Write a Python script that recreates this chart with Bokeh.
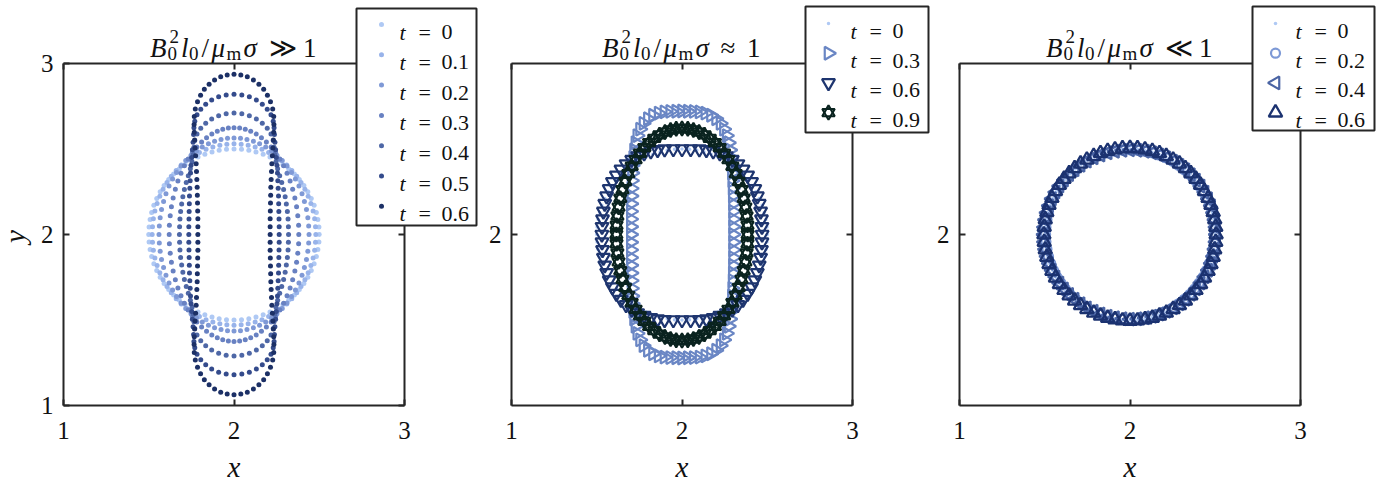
from math import pi

from bokeh.core.properties import value
from bokeh.embed import file_html
from bokeh.layouts import row
from bokeh.models import ColumnDataSource, FixedTicker, LinearAxis, Range1d
from bokeh.plotting import figure
from bokeh.resources import INLINE

SERIF = "Liberation Serif"
AXIS_COLOR = "#262626"
TEXT_COLOR = "#111111"

# drop centre
CX, CY = 2.0, 2.0

# ---------------------------------------------------------------------------
# Interface markers, one quarter of each outline (dx, dy) from the equator to
# the pole; the drops are symmetric about x = 2 and y = 2.
# ---------------------------------------------------------------------------
CIRCLE_T0 = [(0.500, 0.000), (0.498, 0.044), (0.492, 0.087), (0.483, 0.129), (0.470, 0.171),
             (0.453, 0.211), (0.433, 0.250), (0.410, 0.287), (0.383, 0.321), (0.354, 0.354),
             (0.321, 0.383), (0.287, 0.410), (0.250, 0.433), (0.211, 0.453), (0.171, 0.470),
             (0.129, 0.483), (0.087, 0.492), (0.044, 0.498), (0.000, 0.500)]

# strong field
P1_T01 = [(0.480, 0.000), (0.478, 0.046), (0.473, 0.092), (0.464, 0.137), (0.451, 0.181),
          (0.435, 0.224), (0.416, 0.265), (0.393, 0.304), (0.368, 0.341), (0.339, 0.375),
          (0.309, 0.406), (0.275, 0.434), (0.240, 0.459), (0.203, 0.480), (0.164, 0.498),
          (0.124, 0.512), (0.083, 0.522), (0.042, 0.528), (0.000, 0.530)]
P1_T02 = [(0.440, 0.000), (0.438, 0.049), (0.433, 0.098), (0.425, 0.146), (0.413, 0.193),
          (0.399, 0.239), (0.381, 0.283), (0.360, 0.324), (0.337, 0.363), (0.311, 0.400),
          (0.283, 0.433), (0.252, 0.463), (0.220, 0.489), (0.186, 0.512), (0.150, 0.531),
          (0.114, 0.546), (0.076, 0.556), (0.038, 0.563), (0.000, 0.565)]
P1_T03 = [(0.380, 0.000), (0.379, 0.054), (0.374, 0.109), (0.367, 0.162), (0.357, 0.214),
          (0.344, 0.264), (0.329, 0.313), (0.311, 0.358), (0.291, 0.402), (0.269, 0.442),
          (0.244, 0.479), (0.218, 0.512), (0.190, 0.541), (0.161, 0.566), (0.130, 0.587),
          (0.098, 0.604), (0.066, 0.616), (0.033, 0.623), (0.000, 0.625)]
P1_T04 = [(0.320, 0.000), (0.319, 0.045), (0.317, 0.090), (0.313, 0.134), (0.307, 0.178),
          (0.300, 0.221), (0.291, 0.263), (0.280, 0.304), (0.268, 0.344), (0.256, 0.384),
          (0.246, 0.425), (0.239, 0.467), (0.235, 0.510), (0.230, 0.549), (0.217, 0.587),
          (0.195, 0.621), (0.166, 0.651), (0.131, 0.676), (0.090, 0.695), (0.046, 0.706),
          (0.000, 0.710)]
P1_T05 = [(0.265, 0.000), (0.265, 0.045), (0.264, 0.090), (0.263, 0.135), (0.262, 0.180),
          (0.261, 0.225), (0.259, 0.270), (0.257, 0.315), (0.255, 0.360), (0.252, 0.405),
          (0.248, 0.450), (0.244, 0.495), (0.240, 0.540), (0.237, 0.585), (0.235, 0.625),
          (0.230, 0.663), (0.217, 0.700), (0.195, 0.733), (0.166, 0.762), (0.131, 0.786),
          (0.090, 0.805), (0.046, 0.816), (0.000, 0.820)]
P1_T06 = [(0.212, 0.000), (0.212, 0.046), (0.212, 0.092), (0.213, 0.138), (0.214, 0.184),
          (0.215, 0.230), (0.216, 0.276), (0.218, 0.322), (0.220, 0.368), (0.222, 0.414),
          (0.225, 0.460), (0.228, 0.506), (0.231, 0.552), (0.233, 0.598), (0.234, 0.644),
          (0.233, 0.690), (0.227, 0.734), (0.214, 0.776), (0.196, 0.814), (0.174, 0.849),
          (0.146, 0.879), (0.114, 0.904), (0.078, 0.922), (0.040, 0.933), (0.000, 0.937)]

# intermediate field
P2_T03 = [(0.300, 0.000), (0.300, 0.045), (0.300, 0.090), (0.300, 0.135), (0.299, 0.180),
          (0.298, 0.225), (0.297, 0.270), (0.295, 0.315), (0.293, 0.360), (0.290, 0.405),
          (0.286, 0.450), (0.281, 0.494), (0.273, 0.537), (0.262, 0.578), (0.246, 0.616),
          (0.226, 0.650), (0.200, 0.677), (0.170, 0.697), (0.137, 0.710), (0.103, 0.717),
          (0.069, 0.720), (0.034, 0.721), (0.000, 0.722)]
P2_T06 = [(0.470, 0.000), (0.469, 0.045), (0.466, 0.090), (0.461, 0.135), (0.453, 0.180),
          (0.442, 0.224), (0.427, 0.267), (0.408, 0.308), (0.385, 0.346), (0.358, 0.381),
          (0.328, 0.412), (0.295, 0.438), (0.260, 0.459), (0.222, 0.475), (0.183, 0.487),
          (0.143, 0.495), (0.102, 0.499), (0.051, 0.500), (0.000, 0.500)]
P2_T09 = [(0.385, 0.000), (0.384, 0.054), (0.379, 0.108), (0.372, 0.160), (0.362, 0.212),
          (0.349, 0.262), (0.333, 0.310), (0.315, 0.356), (0.295, 0.399), (0.272, 0.438),
          (0.247, 0.475), (0.221, 0.508), (0.193, 0.537), (0.163, 0.562), (0.132, 0.583),
          (0.100, 0.599), (0.067, 0.611), (0.034, 0.618), (0.000, 0.620)]

# weak field
P3_T02 = [(0.495, 0.000), (0.493, 0.043), (0.487, 0.086), (0.478, 0.128), (0.465, 0.169),
          (0.449, 0.209), (0.429, 0.248), (0.405, 0.284), (0.379, 0.318), (0.350, 0.350),
          (0.318, 0.379), (0.284, 0.405), (0.248, 0.429), (0.209, 0.449), (0.169, 0.465),
          (0.128, 0.478), (0.086, 0.487), (0.043, 0.493), (0.000, 0.495)]
P3_T04 = [(0.505, 0.000), (0.503, 0.043), (0.497, 0.086), (0.488, 0.128), (0.475, 0.169),
          (0.458, 0.209), (0.437, 0.248), (0.414, 0.284), (0.387, 0.318), (0.357, 0.350),
          (0.325, 0.379), (0.290, 0.405), (0.253, 0.429), (0.213, 0.449), (0.173, 0.465),
          (0.131, 0.478), (0.088, 0.487), (0.044, 0.493), (0.000, 0.495)]
P3_T06 = [(0.505, 0.000), (0.503, 0.044), (0.497, 0.088), (0.488, 0.131), (0.475, 0.173),
          (0.458, 0.213), (0.437, 0.253), (0.414, 0.290), (0.387, 0.325), (0.357, 0.357),
          (0.325, 0.387), (0.290, 0.414), (0.253, 0.437), (0.213, 0.458), (0.173, 0.475),
          (0.131, 0.488), (0.088, 0.497), (0.044, 0.503), (0.000, 0.505)]

P1_TIMES = ["0", "0.1", "0.2", "0.3", "0.4", "0.5", "0.6"]
P1_SHAPES = [CIRCLE_T0, P1_T01, P1_T02, P1_T03, P1_T04, P1_T05, P1_T06]
P1_COLORS = ["#AFC9F4", "#98B3EA", "#7F99D6", "#6881C2", "#4E67A6", "#344B8C", "#1C3066"]

P2_TIMES = ["0", "0.3", "0.6", "0.9"]
P2_SHAPES = [CIRCLE_T0, P2_T03, P2_T06, P2_T09]
P2_COLORS = ["#AFC9F4", "#6A86C4", "#1E356F", "#0A231F"]

P3_TIMES = ["0", "0.2", "0.4", "0.6"]
P3_SHAPES = [CIRCLE_T0, P3_T02, P3_T04, P3_T06]
P3_COLORS = ["#AFC9F4", "#7D99D6", "#4A64A4", "#1B3270"]

TICKS = [1, 2, 3]
MID_TICK = [2]

DOT = {"kind": "dot", "size": 5}
SMALL_DOT = {"kind": "dot", "size": 3.5}
TRI_RIGHT = {"kind": "open", "marker": "triangle", "angle": -pi / 2, "size": 13, "lw": 2.2}
TRI_LEFT = {"kind": "open", "marker": "triangle", "angle": pi / 2, "size": 13, "lw": 2.2}
TRI_DOWN = {"kind": "open", "marker": "inverted_triangle", "angle": 0.0, "size": 13, "lw": 2.2}
TRI_UP = {"kind": "open", "marker": "triangle", "angle": 0.0, "size": 13.5, "lw": 2.3}
RING = {"kind": "open", "marker": "circle", "angle": 0.0, "size": 9, "lw": 2.2}
HEXAGRAM = {"kind": "hexagram", "size": 12.5, "lw": 2.1}

P1_STYLES = [DOT] * 7
P2_STYLES = [SMALL_DOT, TRI_RIGHT, TRI_DOWN, HEXAGRAM]
P3_STYLES = [SMALL_DOT, RING, TRI_LEFT, TRI_UP]


def full_outline(quarter):
    """Reflect a quarter outline into the four quadrants around the centre."""
    xs, ys = [], []
    for dx, dy in quarter:
        for sx in ((1,) if dx == 0 else (1, -1)):
            for sy in ((1,) if dy == 0 else (1, -1)):
                xs.append(CX + sx * dx)
                ys.append(CY + sy * dy)
    return xs, ys


def draw_markers(p, xs, ys, style, color):
    if style["kind"] == "dot":
        p.scatter(xs, ys, marker="circle", size=style["size"], fill_color=color, line_color=None)
    elif style["kind"] == "hexagram":
        for m in ("triangle", "inverted_triangle"):
            p.scatter(xs, ys, marker=m, size=style["size"], fill_color=None,
                      line_color=color, line_width=style["lw"])
    else:
        p.scatter(xs, ys, marker=style["marker"], angle=style["angle"], size=style["size"],
                  fill_color=None, line_color=color, line_width=style["lw"])


def legend_key(p, x, y, style, color):
    """One legend symbol above the frame; a second, invisible wide marker keeps
    the renderer's view window large enough for the symbol to be painted."""
    def src(size):
        return ColumnDataSource(dict(x=[x, x], y=[y, y], size=[size, 400], alpha=[1.0, 0.0]))
    if style["kind"] == "dot":
        p.scatter("x", "y", source=src(style["size"]), marker="circle", size="size",
                  fill_color=color, fill_alpha="alpha", line_color=None, level="overlay")
    elif style["kind"] == "hexagram":
        for m in ("triangle", "inverted_triangle"):
            p.scatter("x", "y", source=src(style["size"]), marker=m, size="size",
                      fill_color=None, line_color=color, line_alpha="alpha",
                      line_width=style["lw"], level="overlay")
    else:
        p.scatter("x", "y", source=src(style["size"]), marker=style["marker"],
                  angle=style["angle"], size="size", fill_color=None, line_color=color,
                  line_alpha="alpha", line_width=style["lw"], level="overlay")


def style_axis(ax, ticks, labelled, standoff=10):
    ax.ticker = FixedTicker(ticks=ticks)
    ax.axis_line_color = AXIS_COLOR
    ax.axis_line_width = 2
    ax.major_tick_line_color = AXIS_COLOR
    ax.major_tick_line_width = 2
    ax.major_tick_in = 6
    ax.major_tick_out = 0
    ax.minor_tick_line_color = None
    ax.major_label_text_font = SERIF
    ax.major_label_text_font_size = "25px"
    ax.major_label_standoff = standoff
    ax.major_label_text_color = TEXT_COLOR if labelled else None


def make_panel(left_border, right_border, y_ticks):
    p = figure(frame_width=341, frame_height=342, x_range=Range1d(1, 3), y_range=Range1d(1, 3),
               min_border_left=left_border, min_border_right=right_border,
               min_border_top=63, min_border_bottom=84,
               output_backend="svg", toolbar_location=None)
    p.outline_line_color = None
    p.grid.visible = False
    p.background_fill_color = "white"
    p.border_fill_color = "white"
    xa = p.xaxis[0]
    style_axis(xa, TICKS, True, standoff=16)
    xa.axis_label = "x"
    xa.axis_label_text_font = SERIF
    xa.axis_label_text_font_style = "italic"
    xa.axis_label_text_font_size = "29px"
    xa.axis_label_text_color = TEXT_COLOR
    xa.axis_label_standoff = 9
    style_axis(p.yaxis[0], y_ticks, True, standoff=10)
    top = LinearAxis()
    style_axis(top, TICKS, False)
    p.add_layout(top, "above")
    right = LinearAxis()
    style_axis(right, y_ticks, False)
    p.add_layout(right, "right")
    return p


def px(frame_left, sx, sy):
    """Canvas pixel position -> data coordinates of a panel."""
    return 1 + (sx - frame_left) / 170.5, 3 - (sy - 63) / 171.0


def add_text(p, frame_left, sx, sy, text, size, italic=False, align="left", angle=0.0):
    x, y = px(frame_left, sx, sy)
    p.text(x=[x], y=[y], text=[text], text_font=value(SERIF), text_font_size=size,
           text_font_style="italic" if italic else "normal", text_color=TEXT_COLOR,
           text_align=align, text_baseline="alphabetic", angle=angle, level="overlay")


def add_title(p, frame_left, relation, one_offset, half_width):
    """B0^2 l0 / mu_m sigma <relation> 1, built piece by piece."""
    start = frame_left + 170.5 - half_width
    pieces = [("B", 0, "main", True), ("2", 19.5, "sup", False), ("0", 17.5, "sub", False),
              ("l", 31, "main", True), ("0", 39, "sub", False), ("/", 51.5, "main", False),
              ("\u03bc", 61.5, "main", True), ("m", 76.5, "sub", False),
              ("\u03c3", 93.5, "main", True), (relation, 118.5, "main", False),
              ("1", one_offset, "main", False)]
    base = {"main": 47, "sup": 36, "sub": 53}
    size = {"main": "27px", "sup": "19px", "sub": "19px"}
    for text, off, kind, italic in pieces:
        add_text(p, frame_left, start + off, base[kind], text, size[kind], italic)


def add_legend(p, frame_left, box, first_row, row_step, marker_x, text_x,
               times, styles, colors):
    l, r, t, b = box
    x0, y0 = px(frame_left, l, t)
    x1, y1 = px(frame_left, r, b)
    p.quad(left=[x0], right=[x1], top=[y0], bottom=[y1], fill_color="white",
           line_color=AXIS_COLOR, line_width=2, level="overlay")
    for i, (tt, st, col) in enumerate(zip(times, styles, colors)):
        ry = first_row + i * row_step
        mx, my = px(frame_left, marker_x, ry)
        legend_key(p, mx, my, st, col)
        add_text(p, frame_left, text_x, ry + 7.5, "t", "22px", italic=True)
        add_text(p, frame_left, text_x + 19, ry + 7.5, "=", "22px")
        add_text(p, frame_left, text_x + 42, ry + 7.5, tt, "22px")


panels = []

# strong field
p1 = make_panel(63, 76, TICKS)
for shape, st, col in zip(P1_SHAPES, P1_STYLES, P1_COLORS):
    xs, ys = full_outline(shape)
    draw_markers(p1, xs, ys, st, col)
add_title(p1, 63, "\u226b", 153, 84)
add_text(p1, 63, 14, 236, "y", "29px", italic=True, align="center", angle=pi / 2)
add_legend(p1, 63, (356, 476, 8, 225), 24, 30.3, 381, 399, P1_TIMES, P1_STYLES, P1_COLORS)
panels.append(p1)

# intermediate field
p2 = make_panel(31, 78, MID_TICK)
for shape, st, col in zip(P2_SHAPES, P2_STYLES, P2_COLORS):
    xs, ys = full_outline(shape)
    draw_markers(p2, xs, ys, st, col)
add_title(p2, 511, "\u2248", 145, 80)
add_legend(p2, 511, (805, 928, 6, 132), 23, 29.7, 828, 850, P2_TIMES, P2_STYLES, P2_COLORS)
panels.append(p2)

# weak field
p3 = make_panel(29, 94, MID_TICK)
for shape, st, col in zip(P3_SHAPES, P3_STYLES, P3_COLORS):
    xs, ys = full_outline(shape)
    draw_markers(p3, xs, ys, st, col)
add_title(p3, 959, "\u226a", 153, 84)
add_legend(p3, 959, (1252, 1374, 6, 130), 23, 29.7, 1275, 1295, P3_TIMES, P3_STYLES, P3_COLORS)
panels.append(p3)

layout = row(*panels, spacing=0)
open("out.html", "w").write(file_html(layout, INLINE))
